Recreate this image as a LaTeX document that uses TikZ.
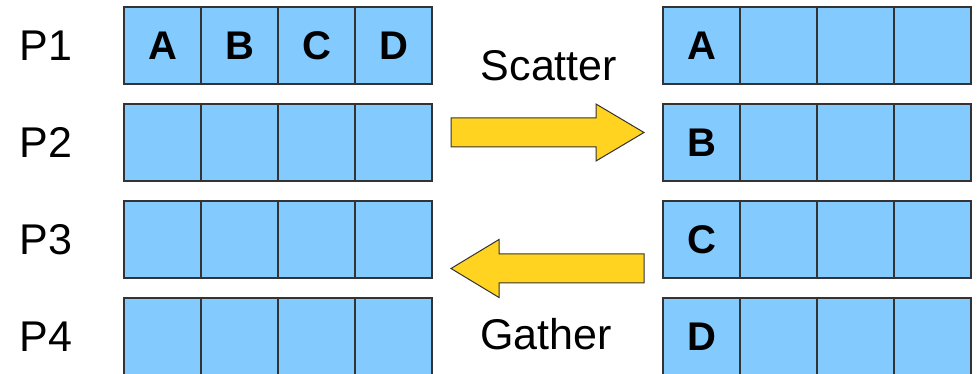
\documentclass[tikz,border=0pt]{standalone}
\usepackage{fontspec}
\setmainfont{Liberation Sans}
\definecolor{cellblue}{HTML}{83CAFF}
\definecolor{cellline}{HTML}{333333}
\definecolor{arrowyellow}{HTML}{FFD320}
\tikzset{
  cell/.style={draw=cellline, fill=cellblue, line width=1.2pt, minimum width=77pt, minimum height=77pt, inner sep=0pt, outer sep=0pt, anchor=north west, font=\fontsize{40}{46}\selectfont\bfseries},
  plabel/.style={inner sep=0pt, font=\fontsize{43}{50}\selectfont},
  oplabel/.style={inner sep=0pt, anchor=base, font=\fontsize{43}{50}\selectfont},
  bigarrow/.style={draw=black!80, fill=arrowyellow, line width=1pt, line join=miter}
}
\begin{document}
\begin{tikzpicture}[x=1pt, y=-1pt]
\useasboundingbox (0,0) rectangle (978,374);
% rows
\foreach \r/\ty in {1/7, 2/104, 3/201, 4/298} {
  \node[plabel] (P\r) at (46, \ty+38.5) {P\r};
  \foreach \c in {1,2,3,4} {
    \node[cell] (L\r\c) at (124+77*\c-77, \ty) {};
    \node[cell] (R\r\c) at (663+77*\c-77, \ty) {};
  }
}
% letters
\node[font=\fontsize{40}{46}\selectfont\bfseries, inner sep=0pt] at (L11.center) {A};
\node[font=\fontsize{40}{46}\selectfont\bfseries, inner sep=0pt] at (L12.center) {B};
\node[font=\fontsize{40}{46}\selectfont\bfseries, inner sep=0pt] at (L13.center) {C};
\node[font=\fontsize{40}{46}\selectfont\bfseries, inner sep=0pt] at (L14.center) {D};
\node[font=\fontsize{40}{46}\selectfont\bfseries, inner sep=0pt] at (R11.center) {A};
\node[font=\fontsize{40}{46}\selectfont\bfseries, inner sep=0pt] at (R21.center) {B};
\node[font=\fontsize{40}{46}\selectfont\bfseries, inner sep=0pt] at (R31.center) {C};
\node[font=\fontsize{40}{46}\selectfont\bfseries, inner sep=0pt] at (R41.center) {D};
% operation labels
\node[oplabel] (scatter) at (549, 80.7) {Scatter};
\node[oplabel] (gather) at (546, 349.3) {Gather};
% scatter arrow
\draw[bigarrow] (451,118) -- (596,118) -- (596,104) -- (644,132.5) -- (596,161) -- (596,147) -- (451,147) -- cycle;
% gather arrow
\draw[bigarrow] (644,254) -- (499,254) -- (499,239.5) -- (451,268.5) -- (499,297.5) -- (499,283) -- (644,283) -- cycle;
\end{tikzpicture}
\end{document}
